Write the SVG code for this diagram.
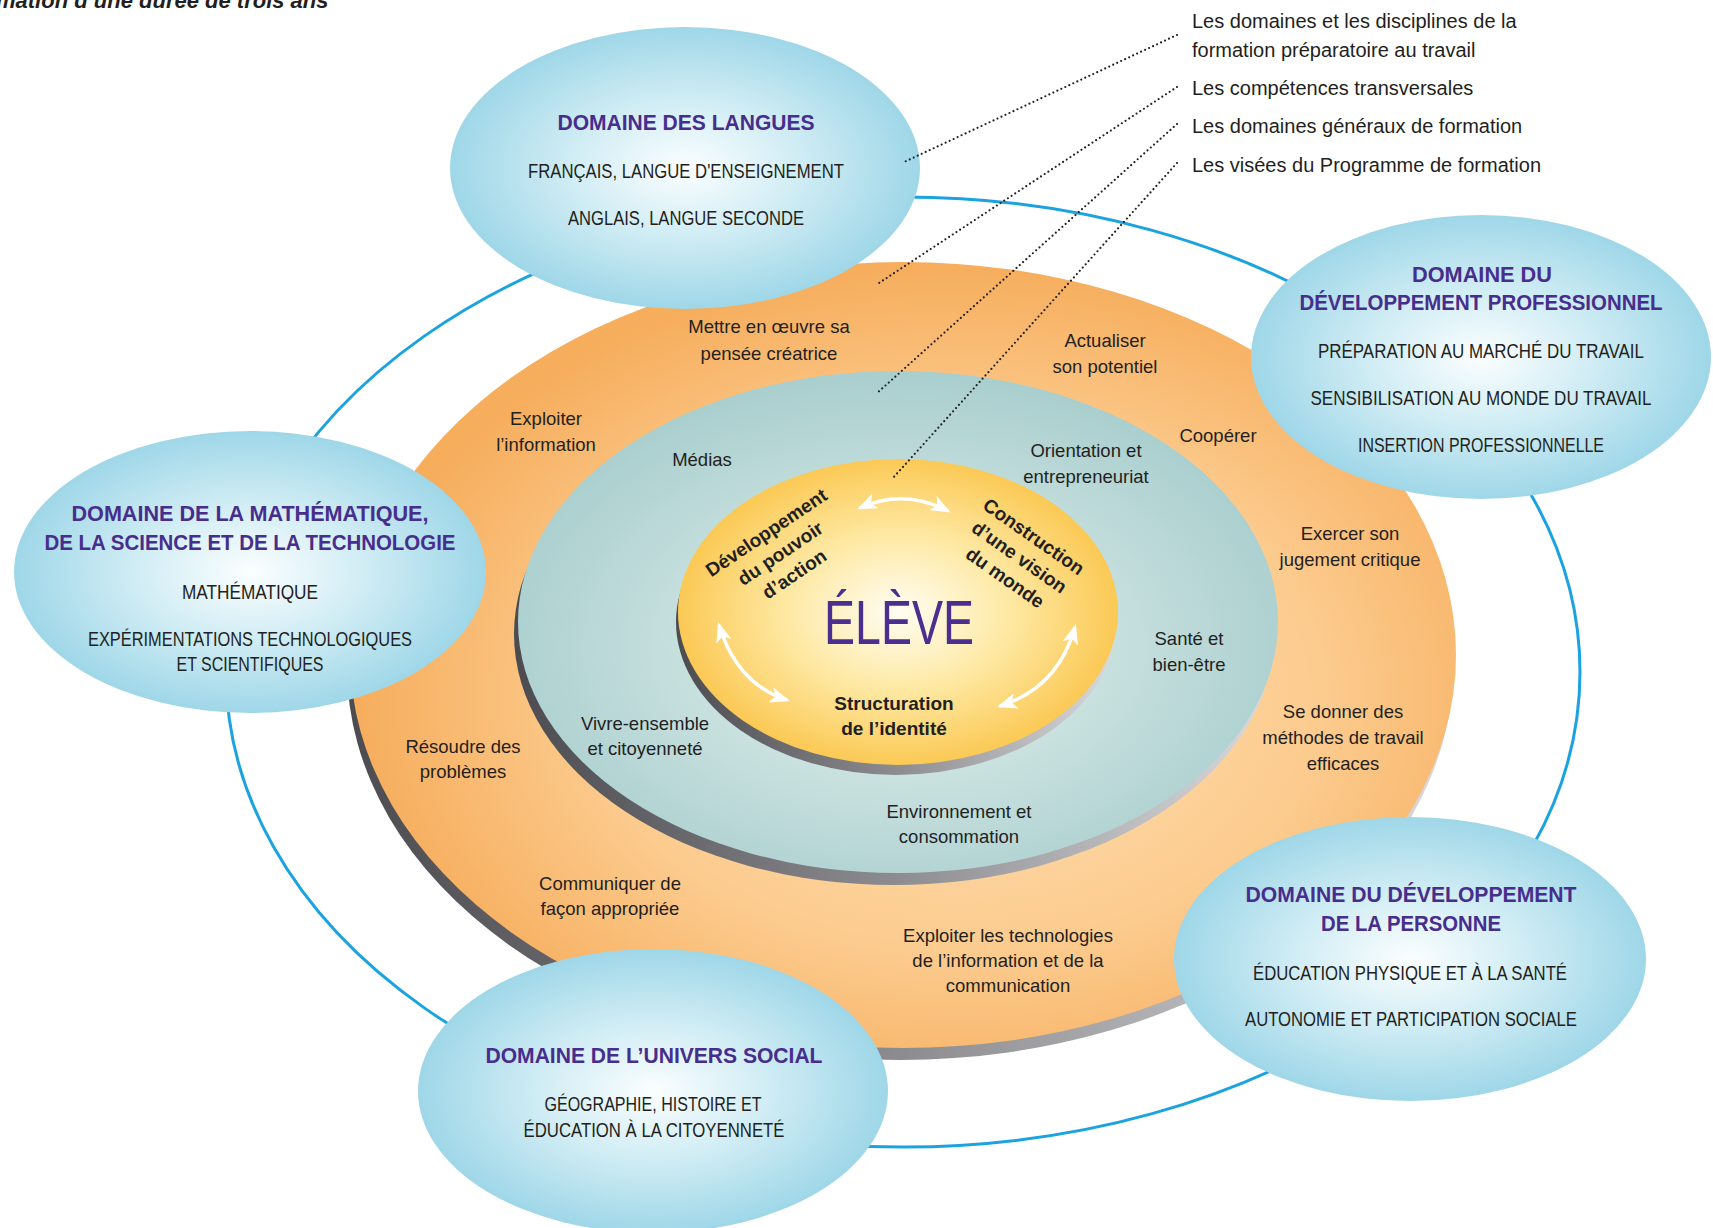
<svg xmlns="http://www.w3.org/2000/svg" width="1713" height="1228" viewBox="0 0 1713 1228">
<style>
  text { font-family: "Liberation Sans", Arial, sans-serif; fill: #231f20; }
  .h { font-weight: bold; font-size: 22px; fill: #472d8c; text-anchor: middle; }
  .b { font-size: 20px; text-anchor: middle; }
  .l { font-size: 18.5px; text-anchor: middle; }
  .leg { font-size: 20px; }
  .bold { font-weight: bold; font-size: 19px; text-anchor: middle; }
  .dom { fill: url(#gDom); }
  .arrow { fill: none; stroke: #ffffff; stroke-width: 3.5; marker-start: url(#ah); marker-end: url(#ah); }
  .dot { fill: none; stroke: #231f20; stroke-width: 2.2; stroke-dasharray: 0 4.4; stroke-linecap: round; }
</style>
<defs>
  <radialGradient id="gDom" cx="0.5" cy="0.5" r="0.5">
    <stop offset="0" stop-color="#fbfeff"/>
    <stop offset="0.5" stop-color="#cfecf4"/>
    <stop offset="1" stop-color="#9fd7e8"/>
  </radialGradient>
  <radialGradient id="gOrange" cx="0.55" cy="0.55" r="0.55">
    <stop offset="0" stop-color="#fee2b8"/>
    <stop offset="0.6" stop-color="#fccb8e"/>
    <stop offset="1" stop-color="#f6ad5c"/>
  </radialGradient>
  <radialGradient id="gTeal" cx="0.5" cy="0.55" r="0.55">
    <stop offset="0" stop-color="#e6f3ef"/>
    <stop offset="1" stop-color="#a9cece"/>
  </radialGradient>
  <radialGradient id="gYellow" cx="0.5" cy="0.5" r="0.5">
    <stop offset="0" stop-color="#fffdf3"/>
    <stop offset="0.5" stop-color="#fee9a4"/>
    <stop offset="1" stop-color="#fbc955"/>
  </radialGradient>
  <linearGradient id="gShadow" x1="0" y1="0" x2="1" y2="0">
    <stop offset="0" stop-color="#4c4c50"/>
    <stop offset="0.5" stop-color="#8c8c90"/>
    <stop offset="1" stop-color="#dadadc"/>
  </linearGradient>
  <marker id="ah" viewBox="0 0 20 16" refX="17" refY="8" markerWidth="20" markerHeight="16" markerUnits="userSpaceOnUse" orient="auto-start-reverse">
    <path d="M0,0 L20,8 L0,16 L5,8 z" fill="#ffffff"/>
  </marker>
</defs>

<text x="-4" y="7.5" style="font-size:22px;font-weight:bold;font-style:italic;">mation d’une durée de trois ans</text>

<g id="outer-ring">
  <ellipse cx="903" cy="672" rx="677" ry="475" fill="none" stroke="#1ba3e0" stroke-width="3"/>
</g>

<g id="ring-competences">
  <ellipse cx="900" cy="667" rx="553" ry="393" fill="url(#gShadow)"/>
  <ellipse cx="903" cy="655" rx="553" ry="393" fill="url(#gOrange)"/>
  <text class="l" x="769" y="333">Mettre en œuvre sa</text>
  <text class="l" x="769" y="360">pensée créatrice</text>
  <text class="l" x="1105" y="347">Actualiser</text>
  <text class="l" x="1105" y="373">son potentiel</text>
  <text class="l" x="546" y="425">Exploiter</text>
  <text class="l" x="546" y="451">l’information</text>
  <text class="l" x="1218" y="442">Coopérer</text>
  <text class="l" x="1350" y="540">Exercer son</text>
  <text class="l" x="1350" y="566">jugement critique</text>
  <text class="l" x="1343" y="718">Se donner des</text>
  <text class="l" x="1343" y="744">méthodes de travail</text>
  <text class="l" x="1343" y="770">efficaces</text>
  <text class="l" x="463" y="753">Résoudre des</text>
  <text class="l" x="463" y="778">problèmes</text>
  <text class="l" x="610" y="890">Communiquer de</text>
  <text class="l" x="610" y="915">façon appropriée</text>
  <text class="l" x="1008" y="942">Exploiter les technologies</text>
  <text class="l" x="1008" y="967">de l’information et de la</text>
  <text class="l" x="1008" y="992">communication</text>
</g>

<g id="ring-domaines-generaux">
  <ellipse cx="894" cy="634" rx="380" ry="251" fill="url(#gShadow)"/>
  <ellipse cx="898" cy="622" rx="380" ry="251" fill="url(#gTeal)"/>
  <text class="l" x="702" y="466">Médias</text>
  <text class="l" x="1086" y="457">Orientation et</text>
  <text class="l" x="1086" y="483">entrepreneuriat</text>
  <text class="l" x="1189" y="645">Santé et</text>
  <text class="l" x="1189" y="671">bien-être</text>
  <text class="l" x="645" y="730">Vivre-ensemble</text>
  <text class="l" x="645" y="755">et citoyenneté</text>
  <text class="l" x="959" y="818">Environnement et</text>
  <text class="l" x="959" y="843">consommation</text>
</g>

<g id="core-eleve">
  <ellipse cx="896" cy="622" rx="220" ry="153" fill="url(#gShadow)"/>
  <ellipse cx="898" cy="612" rx="220" ry="153" fill="url(#gYellow)"/>
  <text x="899" y="644" textLength="150" lengthAdjust="spacingAndGlyphs" style="font-size:63px;fill:#4a2f90;text-anchor:middle;">ÉLÈVE</text>
  <g transform="translate(770,538) rotate(-34)">
    <text class="bold" x="0" y="0">Développement</text>
    <text class="bold" x="0" y="25">du pouvoir</text>
    <text class="bold" x="0" y="50">d’action</text>
  </g>
  <g transform="translate(1030,542) rotate(35)">
    <text class="bold" x="0" y="0">Construction</text>
    <text class="bold" x="0" y="25">d’une vision</text>
    <text class="bold" x="0" y="50">du monde</text>
  </g>
  <text class="bold" x="894" y="710">Structuration</text>
  <text class="bold" x="894" y="735">de l’identité</text>
</g>

<g id="arrows">
  <path class="arrow" d="M 860 508 Q 904 488 948 511"/>
  <path class="arrow" d="M 719 625 Q 737 684 787 700"/>
  <path class="arrow" d="M 1075 627 Q 1058 688 1000 706"/>
</g>

<g id="domain-langues">
  <ellipse class="dom" cx="685" cy="168" rx="235" ry="141"/>
  <text class="h" x="686" y="130" textLength="257" lengthAdjust="spacingAndGlyphs">DOMAINE DES LANGUES</text>
  <text class="b" x="686" y="178" textLength="316" lengthAdjust="spacingAndGlyphs">FRANÇAIS, LANGUE D'ENSEIGNEMENT</text>
  <text class="b" x="686" y="225" textLength="236" lengthAdjust="spacingAndGlyphs">ANGLAIS, LANGUE SECONDE</text>
</g>

<g id="domain-professionnel">
  <ellipse class="dom" cx="1481" cy="357" rx="230" ry="142"/>
  <text class="h" x="1482" y="282" textLength="140" lengthAdjust="spacingAndGlyphs">DOMAINE DU</text>
  <text class="h" x="1481" y="310" textLength="363" lengthAdjust="spacingAndGlyphs">DÉVELOPPEMENT PROFESSIONNEL</text>
  <text class="b" x="1481" y="358" textLength="326" lengthAdjust="spacingAndGlyphs">PRÉPARATION AU MARCHÉ DU TRAVAIL</text>
  <text class="b" x="1481" y="405" textLength="341" lengthAdjust="spacingAndGlyphs">SENSIBILISATION AU MONDE DU TRAVAIL</text>
  <text class="b" x="1481" y="452" textLength="246" lengthAdjust="spacingAndGlyphs">INSERTION PROFESSIONNELLE</text>
</g>

<g id="domain-mathematique">
  <ellipse class="dom" cx="250" cy="572" rx="236" ry="141"/>
  <text class="h" x="250" y="521" textLength="357" lengthAdjust="spacingAndGlyphs">DOMAINE DE LA MATHÉMATIQUE,</text>
  <text class="h" x="250" y="550" textLength="411" lengthAdjust="spacingAndGlyphs">DE LA SCIENCE ET DE LA TECHNOLOGIE</text>
  <text class="b" x="250" y="599" textLength="136" lengthAdjust="spacingAndGlyphs">MATHÉMATIQUE</text>
  <text class="b" x="250" y="646" textLength="324" lengthAdjust="spacingAndGlyphs">EXPÉRIMENTATIONS TECHNOLOGIQUES</text>
  <text class="b" x="250" y="671" textLength="147" lengthAdjust="spacingAndGlyphs">ET SCIENTIFIQUES</text>
</g>

<g id="domain-personne">
  <ellipse class="dom" cx="1410" cy="959" rx="236" ry="142"/>
  <text class="h" x="1411" y="902" textLength="331" lengthAdjust="spacingAndGlyphs">DOMAINE DU DÉVELOPPEMENT</text>
  <text class="h" x="1411" y="931" textLength="180" lengthAdjust="spacingAndGlyphs">DE LA PERSONNE</text>
  <text class="b" x="1410" y="980" textLength="314" lengthAdjust="spacingAndGlyphs">ÉDUCATION PHYSIQUE ET À LA SANTÉ</text>
  <text class="b" x="1411" y="1026" textLength="332" lengthAdjust="spacingAndGlyphs">AUTONOMIE ET PARTICIPATION SOCIALE</text>
</g>

<g id="domain-univers-social">
  <ellipse class="dom" cx="653" cy="1091" rx="235" ry="142"/>
  <text class="h" x="654" y="1063" textLength="337" lengthAdjust="spacingAndGlyphs">DOMAINE DE L’UNIVERS SOCIAL</text>
  <text class="b" x="653" y="1111" textLength="217" lengthAdjust="spacingAndGlyphs">GÉOGRAPHIE, HISTOIRE ET</text>
  <text class="b" x="654" y="1137" textLength="261" lengthAdjust="spacingAndGlyphs">ÉDUCATION À LA CITOYENNETÉ</text>
</g>

<g id="legend">
  <text class="leg" x="1192" y="28">Les domaines et les disciplines de la</text>
  <text class="leg" x="1192" y="57">formation préparatoire au travail</text>
  <text class="leg" x="1192" y="95">Les compétences transversales</text>
  <text class="leg" x="1192" y="133">Les domaines généraux de formation</text>
  <text class="leg" x="1192" y="172">Les visées du Programme de formation</text>
</g>

<g id="connectors">
  <path class="dot" d="M 1177 35 L 902 163"/>
  <path class="dot" d="M 1177 87 L 876 285"/>
  <path class="dot" d="M 1177 124 L 876 394"/>
  <path class="dot" d="M 1177 163 L 893 478"/>
</g>
</svg>
